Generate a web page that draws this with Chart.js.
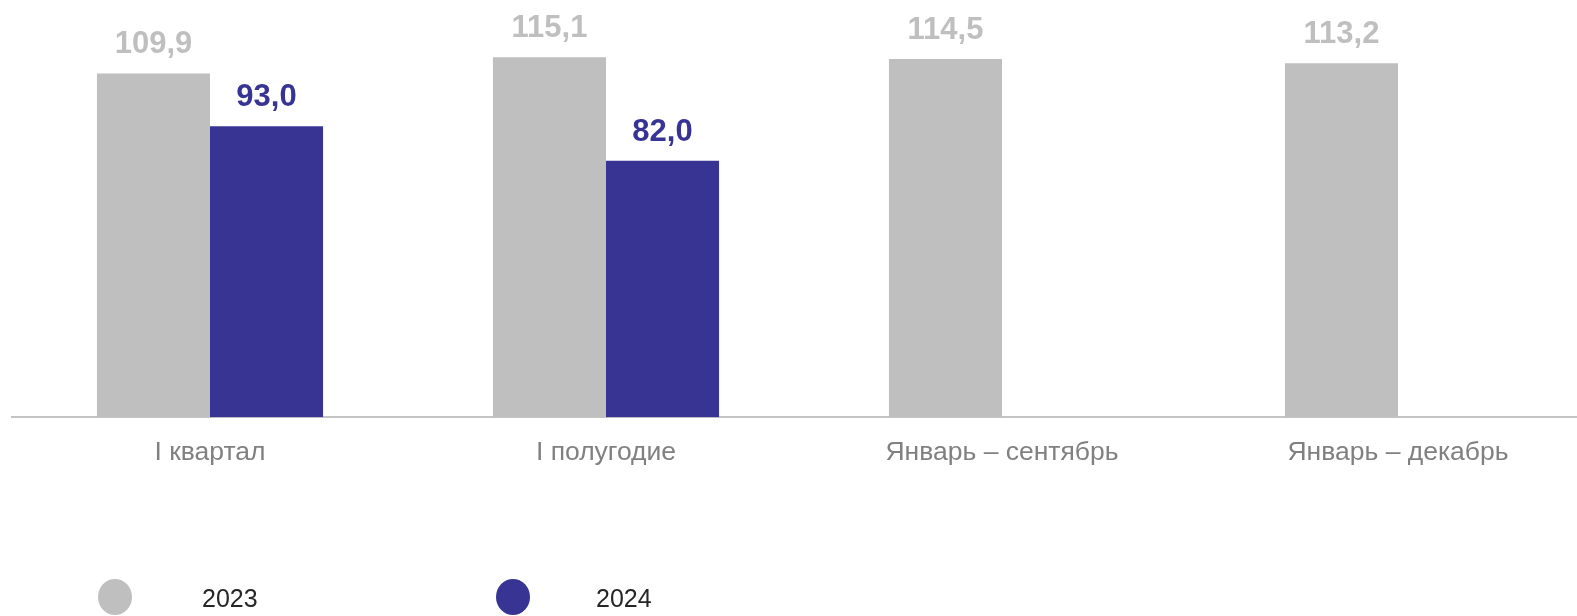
<!DOCTYPE html>
<html>
<head>
<meta charset="utf-8">
<script src="https://cdn.jsdelivr.net/npm/chart.js@4"></script>
<style>
    html, body { margin: 0; padding: 0; background: #fff; overflow: hidden; }
    #wrap { width: 1598px; height: 616px; position: relative; }
</style>
</head>
<body>
<div id="wrap"><canvas id="chart"></canvas></div>
<script>
// Данные графика
const categories = ['I квартал', 'I полугодие', 'Январь – сентябрь', 'Январь – декабрь'];
const seriesNames = ['2023', '2024'];
const values2023 = [109.9, 115.1, 114.5, 113.2];
const values2024 = [93.0, 82.0, null, null];

const colorGray = '#bfbfbf';
const colorBlue = '#373494';
const fontFamily = '"Liberation Sans", Arial, sans-serif';

// Формат числа: одна цифра после запятой
const fmt = v => v.toFixed(1).replace('.', ',');

/**
 * Подписи значений над столбцами
 */
const valueLabels = {
    id: 'valueLabels',
    afterDatasetsDraw(chart) {
        const ctx = chart.ctx;
        ctx.save();
        ctx.font = 'bold 31px ' + fontFamily;
        ctx.textAlign = 'center';
        ctx.textBaseline = 'alphabetic';
        chart.data.datasets.forEach((ds, i) => {
            const meta = chart.getDatasetMeta(i);
            meta.data.forEach((bar, j) => {
                const v = ds.data[j];
                if (v === null || v === undefined) return;
                ctx.fillStyle = ds.backgroundColor;
                ctx.fillText(fmt(v), bar.x, bar.y - 20);
            });
        });
        ctx.restore();
    }
};

/**
 * Легенда внизу: кружок и год
 */
const bottomLegend = {
    id: 'bottomLegend',
    afterDraw(chart) {
        const ctx = chart.ctx;
        const items = [
            { circleX: 115, textX: 202 },
            { circleX: 513, textX: 596 }
        ];
        ctx.save();
        ctx.font = '25px ' + fontFamily;
        ctx.textBaseline = 'middle';
        ctx.textAlign = 'left';
        chart.data.datasets.forEach((ds, i) => {
            const it = items[i];
            ctx.fillStyle = ds.backgroundColor;
            ctx.beginPath();
            ctx.ellipse(it.circleX, 597, 17, 18, 0, 0, Math.PI * 2);
            ctx.fill();
            ctx.fillStyle = '#262626';
            ctx.fillText(ds.label, it.textX, 600);
        });
        ctx.restore();
    }
};

new Chart(document.getElementById('chart'), {
    type: 'bar',
    data: {
        labels: categories,
        datasets: [
            { label: seriesNames[0], data: values2023, backgroundColor: colorGray },
            { label: seriesNames[1], data: values2024, backgroundColor: colorBlue }
        ]
    },
    options: {
        responsive: true,
        maintainAspectRatio: false,
        animation: false,
        layout: { padding: { left: 12, right: 2, top: 0, bottom: 135 } },
        datasets: {
            bar: { barPercentage: 1, categoryPercentage: 0.571 }
        },
        plugins: {
            legend: { display: false },
            tooltip: { enabled: false }
        },
        scales: {
            x: {
                grid: { display: false },
                border: { display: true, color: '#c4c4c4', width: 2 },
                ticks: {
                    color: '#808080',
                    padding: 12,
                    maxRotation: 0,
                    font: { family: fontFamily, size: 26.5 }
                }
            },
            y: {
                display: false,
                min: 0,
                max: 133.4
            }
        }
    },
    plugins: [valueLabels, bottomLegend]
});
</script>
</body>
</html>
